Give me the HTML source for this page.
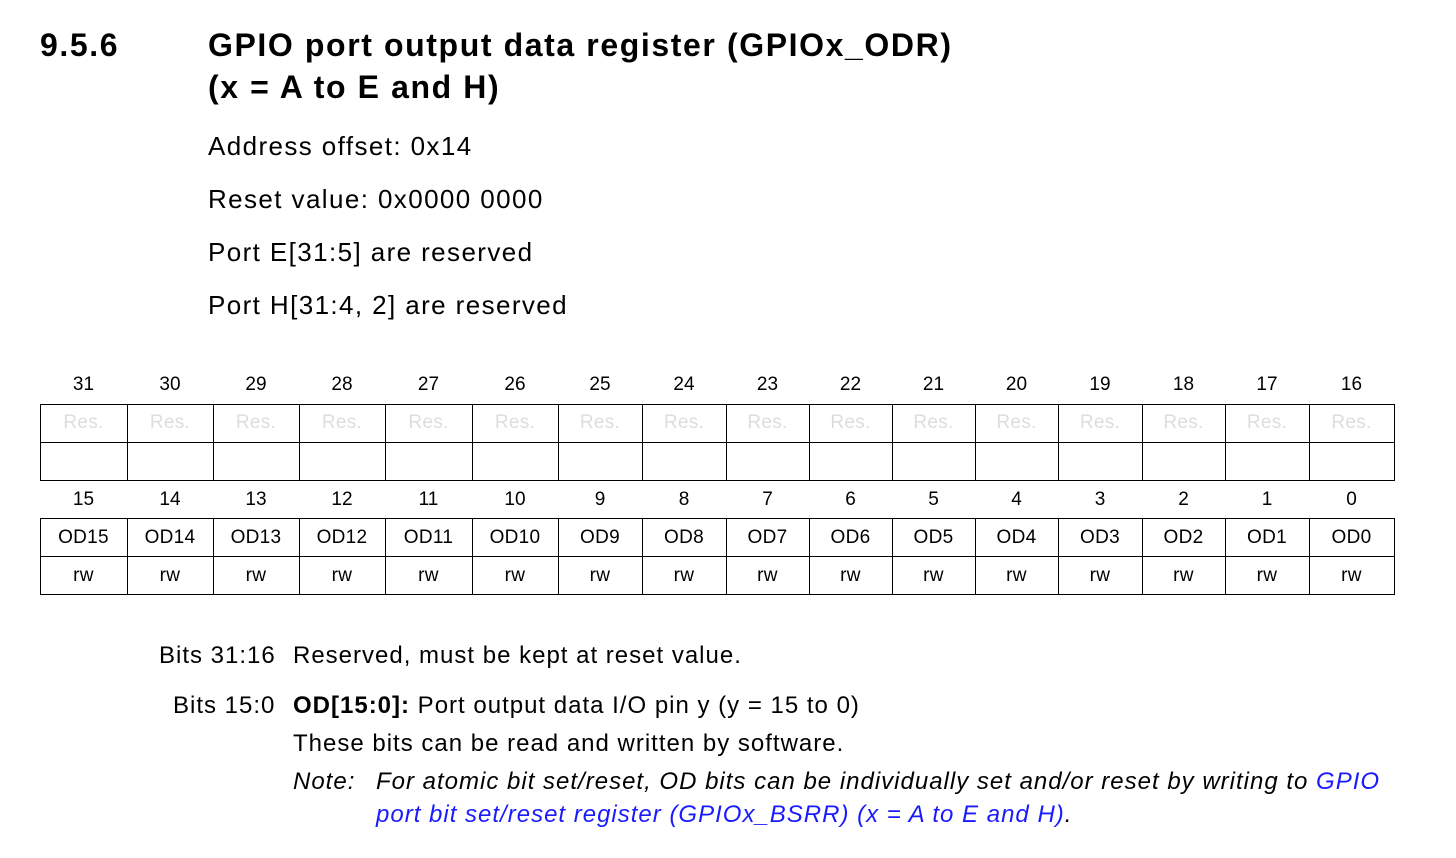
<!DOCTYPE html>
<html><head><meta charset="utf-8"><style>
body{margin:0;width:1456px;height:858px;background:#fff;font-family:"Liberation Sans",Arial,sans-serif;color:#000;position:relative;overflow:hidden}
.a{position:absolute;white-space:nowrap}
.h{font-weight:bold;font-size:32px;letter-spacing:1.6px}
.t{font-size:26px;letter-spacing:1.4px}
.n{font-size:19px;text-align:center}
.c{font-size:19px;text-align:center;letter-spacing:0.3px}
.r{color:#ddd}
.l{position:absolute;background:#000}
.b{font-size:24px;letter-spacing:1px}
</style></head><body>
<div class="a h" style="left:40px;top:27px">9.5.6</div>
<div class="a h" style="left:208px;top:27px">GPIO port output data register (GPIOx_ODR)</div>
<div class="a h" style="left:208px;top:69px">(x = A to E and H)</div>
<div class="a t" style="left:208px;top:131px">Address offset: 0x14</div>
<div class="a t" style="left:208px;top:184px">Reset value: 0x0000 0000</div>
<div class="a t" style="left:208px;top:237px">Port E[31:5] are reserved</div>
<div class="a t" style="left:208px;top:290px">Port H[31:4, 2] are reserved</div>
<div id="tbl"></div>
<div class="a b" style="left:159px;top:642px">Bits 31:16</div>
<div class="a b" style="left:293px;top:642px">Reserved, must be kept at reset value.</div>
<div class="a b" style="left:173px;top:692px">Bits 15:0</div>
<div class="a b" style="left:293px;top:692px"><b>OD[15:0]:</b> Port output data I/O pin y (y = 15 to 0)</div>
<div class="a b" style="left:293px;top:730px">These bits can be read and written by software.</div>
<div class="a b" style="left:293px;top:768px;font-style:italic">Note:</div>
<div class="a b" style="left:376px;top:768px;font-style:italic">For atomic bit set/reset, OD bits can be individually set and/or reset by writing to <span style="color:#1a1aff">GPIO</span></div>
<div class="a b" style="left:376px;top:801px;font-style:italic"><span style="color:#1a1aff">port bit set/reset register (GPIOx_BSRR) (x = A to E and H)</span>.</div>
<script>
var xs=[40,127,213,299,385,472,558,642,726,809,892,975,1058,1142,1225,1309,1394];
var h='';
function hl(y){h+='<div class="l" style="left:40px;top:'+y+'px;width:1355px;height:1.3px"></div>';}
function vl(y0,y1){xs.forEach(function(x){h+='<div class="l" style="left:'+x+'px;top:'+y0+'px;width:1.3px;height:'+(y1-y0+1)+'px"></div>';});}
[404,442,480,518,556,594].forEach(hl);vl(404,480);vl(518,594);
for(var i=0;i<16;i++){var x=xs[i],w=xs[i+1]-x;
h+='<div class="a n" style="left:'+x+'px;width:'+w+'px;top:374px">'+(31-i)+'</div>';
h+='<div class="a c r" style="left:'+x+'px;width:'+w+'px;top:412px">Res.</div>';
h+='<div class="a n" style="left:'+x+'px;width:'+w+'px;top:489px">'+(15-i)+'</div>';
h+='<div class="a c" style="left:'+x+'px;width:'+w+'px;top:527px">OD'+(15-i)+'</div>';
h+='<div class="a c" style="left:'+x+'px;width:'+w+'px;top:565px">rw</div>';}
document.getElementById('tbl').innerHTML=h;
</script>
</body></html>
